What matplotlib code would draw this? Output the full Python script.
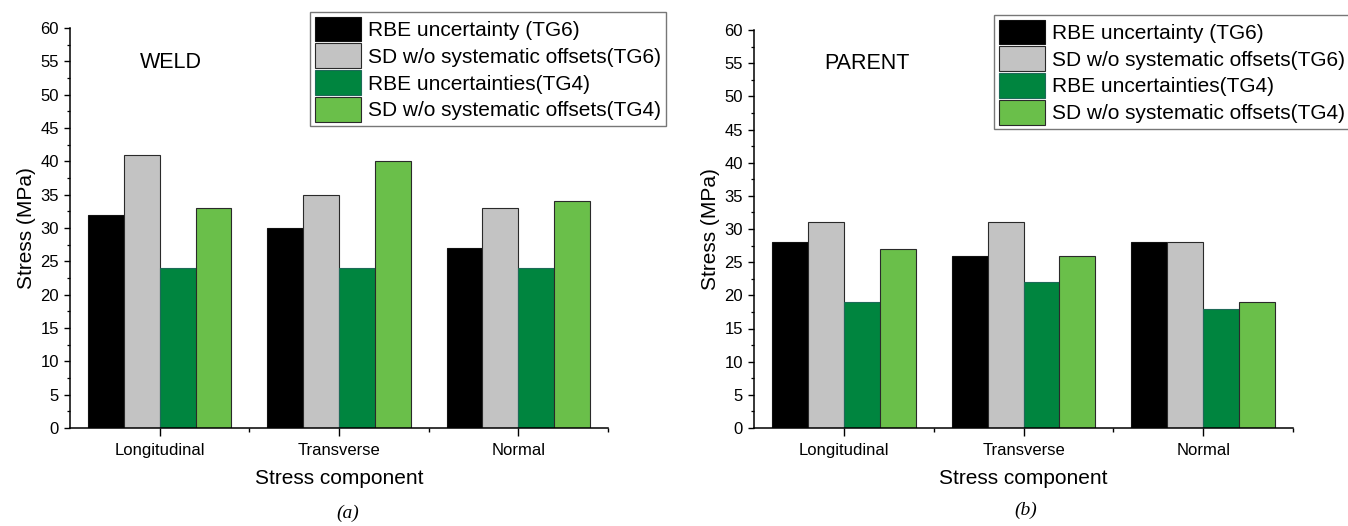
import numpy as np
import matplotlib
matplotlib.use("Agg")
import matplotlib.pyplot as plt
from matplotlib.ticker import MultipleLocator, FixedLocator

plt.rcParams['font.family'] = ['Liberation Sans', 'DejaVu Sans']

# Data
components = ["Longitudinal", "Transverse", "Normal"]
series = ["RBE uncertainty (TG6)", "SD w/o systematic offsets(TG6)",
          "RBE uncertainties(TG4)", "SD w/o systematic offsets(TG4)"]
colors = ["#000000", "#c3c3c3", "#00853f", "#6abf4a"]
edges = ["#111111", "#2a2a2a", "#1d6b58", "#2a2a2a"]

weld_rbe_tg6 = [32, 30, 27]
weld_sd_tg6 = [41, 35, 33]
weld_rbe_tg4 = [24, 24, 24]
weld_sd_tg4 = [33, 40, 34]

parent_rbe_tg6 = [28, 26, 28]
parent_sd_tg6 = [31, 31, 28]
parent_rbe_tg4 = [19, 22, 18]
parent_sd_tg4 = [27, 26, 19]

W, H = 1348, 526
fig = plt.figure(figsize=(W / 100, H / 100), dpi=100)


def panel(rect, vals, title, title_xy, legend_xy, sub, sub_xy):
    ax = fig.add_axes(rect)
    x = np.arange(len(components))
    bw = 0.2
    for i, v in enumerate(vals):
        ax.bar(x - 0.3 + i * bw, v, bw, color=colors[i], edgecolor=edges[i],
               linewidth=0.8, label=series[i])
    ax.set_xlim(-0.5, 2.5)
    ax.set_ylim(0, 60)
    ax.yaxis.set_major_locator(MultipleLocator(5))
    ax.yaxis.set_minor_locator(MultipleLocator(2.5))
    ax.set_xticks(x)
    ax.set_xticklabels(components)
    ax.xaxis.set_minor_locator(FixedLocator([0.5, 1.5, 2.5]))
    ax.spines['top'].set_visible(False)
    ax.spines['right'].set_visible(False)
    for s in ['left', 'bottom']:
        ax.spines[s].set_linewidth(1.1)
    ax.tick_params(axis='y', which='major', length=4.5, width=1.0, labelsize=12, pad=3.5)
    ax.tick_params(axis='y', which='minor', length=2.5, width=0.9)
    ax.tick_params(axis='x', which='major', length=5.5, width=1.0, labelsize=12, pad=5)
    ax.tick_params(axis='x', which='minor', length=3, width=1.0)
    ax.set_ylabel("Stress (MPa)", fontsize=15, labelpad=3)
    ax.set_xlabel("Stress component", fontsize=15, labelpad=8)
    ax.text(title_xy[0], title_xy[1], title, transform=ax.transAxes,
            fontsize=15.5, ha='center', va='center')
    leg = ax.legend(loc='upper left', bbox_to_anchor=legend_xy,
                    bbox_transform=fig.transFigure, fontsize=15,
                    frameon=True, fancybox=False, handlelength=2.25,
                    handleheight=1.45, handletextpad=0.33, labelspacing=0.1,
                    borderpad=0.22, borderaxespad=0)
    leg.get_frame().set_edgecolor("#555555")
    leg.get_frame().set_linewidth(1.0)
    fig.text(sub_xy[0], sub_xy[1], sub, fontsize=14, ha='center', va='center',
             family=['Liberation Serif', 'DejaVu Serif'], style='italic')
    return ax


panel([70 / W, 98 / H, 538 / W, 400 / H],
      [weld_rbe_tg6, weld_sd_tg6, weld_rbe_tg4, weld_sd_tg4],
      "WELD", (0.188, 0.915), (310 / W, 1 - 12 / H), "(a)", (348 / W, 1 - 513 / H))
panel([754 / W, 98 / H, 539 / W, 398 / H],
      [parent_rbe_tg6, parent_sd_tg6, parent_rbe_tg4, parent_sd_tg4],
      "PARENT", (0.21, 0.915), (994 / W, 1 - 15 / H), "(b)", (1026 / W, 1 - 510 / H))

fig.savefig("out.png", dpi=100)
